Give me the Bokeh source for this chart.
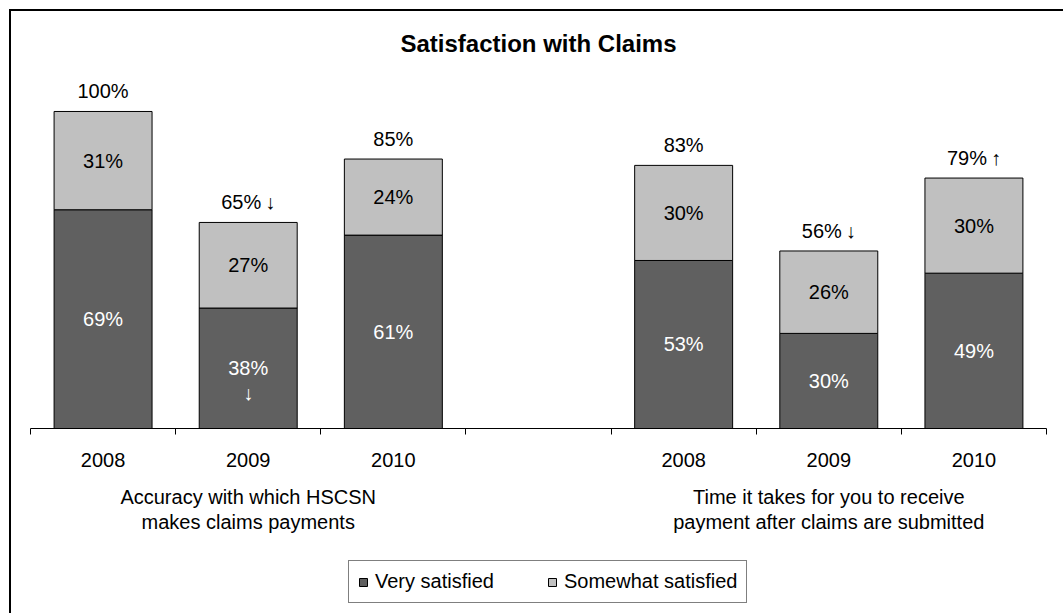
from bokeh.plotting import figure
from bokeh.layouts import column
from bokeh.models import (ColumnDataSource, Range1d, FixedTicker, LinearAxis,
                          LabelSet, Label, Legend, LegendItem)
from bokeh.core.properties import value
from bokeh.embed import file_html
from bokeh.resources import INLINE

# ---- data ----
title = "Satisfaction with Claims"
years = ["2008", "2009", "2010"]
groups = ["Accuracy with which HSCSN\nmakes claims payments",
          "Time it takes for you to receive\npayment after claims are submitted"]
series_names = ["Very satisfied", "Somewhat satisfied"]
accuracy_very = [69, 38, 61]
accuracy_somewhat = [31, 27, 24]
accuracy_total_labels = ["100%", "65%\u2009\u2193", "85%"]
accuracy_very_notes = ["", "\u2193", ""]
timing_very = [53, 30, 49]
timing_somewhat = [30, 26, 30]
timing_total_labels = ["83%", "56%\u2009\u2193", "79%\u2009\u2191"]
timing_very_notes = ["", "", ""]

FONT = "Liberation Sans"
FS = "20px"
DARK = "#606060"
LIGHT = "#c0c0c0"

# slots: 3 years, one empty slot, 3 years
slots_per_group = len(years) + 1
xs, very, some, tot_lbl, notes = [], [], [], [], []
for g, (v, s, t, n) in enumerate([(accuracy_very, accuracy_somewhat, accuracy_total_labels, accuracy_very_notes),
                                   (timing_very, timing_somewhat, timing_total_labels, timing_very_notes)]):
    for i in range(len(years)):
        xs.append(g * slots_per_group + i + 0.5)
        very.append(v[i]); some.append(s[i]); tot_lbl.append(t[i]); notes.append(n[i])
n_slots = slots_per_group * len(groups) - 1

src = ColumnDataSource(dict(
    x=xs,
    very=very,
    some=some,
    total=[a + b for a, b in zip(very, some)],
    very_mid=[a / 2 for a in very],
    some_mid=[a + b / 2 for a, b in zip(very, some)],
    very_lbl=[f"{a}%" for a in very],
    some_lbl=[f"{b}%" for b in some],
    tot_lbl=tot_lbl,
    notes=notes,
))

p = figure(width=1052, height=534, output_backend="svg", toolbar_location=None,
           x_range=Range1d(0, n_slots), y_range=Range1d(0, 128.7),
           y_axis_location=None, min_border_left=19, min_border_right=17,
           min_border_top=9, min_border_bottom=117)
p.outline_line_color = None
p.grid.visible = False
p.background_fill_color = "white"
p.border_fill_color = "white"

bar_style = dict(width=0.675, line_color="black", line_width=1)
r_very = p.vbar(x="x", bottom=0, top="very", source=src, fill_color=DARK, **bar_style)
r_some = p.vbar(x="x", bottom="very", top="total", source=src, fill_color=LIGHT, **bar_style)

# chart title (y in screen pixels from the frame bottom)
p.add_layout(Label(x=n_slots / 2, y=385, y_units="screen", text=title,
                   text_font=FONT, text_font_size="24px", text_font_style="bold",
                   text_align="center", text_baseline="middle", text_color="black"))

# year axis (ticks at slot boundaries)
ax = p.xaxis[0]
ax.ticker = FixedTicker(ticks=xs, minor_ticks=list(range(n_slots + 1)))
ax.major_label_overrides = {x: years[k % len(years)] for k, x in enumerate(xs)}
ax.major_tick_line_color = None
ax.major_tick_out = 0
ax.major_tick_in = 0
ax.minor_tick_line_color = "black"
ax.minor_tick_out = 6
ax.minor_tick_in = 0
ax.axis_line_color = "black"
ax.axis_line_width = 1
ax.major_label_text_font = FONT
ax.major_label_text_font_size = FS
ax.major_label_text_color = "black"
ax.major_label_standoff = 18

# group axis
gcenters = [g * slots_per_group + len(years) / 2 for g in range(len(groups))]
gax = LinearAxis(ticker=FixedTicker(ticks=gcenters),
                 major_label_overrides={c: groups[k] for k, c in enumerate(gcenters)})
gax.axis_line_color = None
gax.major_tick_line_color = None
gax.minor_tick_line_color = None
gax.major_label_text_font = FONT
gax.major_label_text_font_size = FS
gax.major_label_text_color = "black"
gax.major_label_text_line_height = 1.15
gax.major_label_standoff = 10
p.add_layout(gax, "below")

common = dict(source=src, text_font=value(FONT), text_font_size=FS,
              text_align="center", text_baseline="middle")
p.add_layout(LabelSet(x="x", y="very_mid", text="very_lbl", text_color="white", **common))
p.add_layout(LabelSet(x="x", y="very_mid", text="notes", text_color="white", y_offset=-25, **common))
p.add_layout(LabelSet(x="x", y="some_mid", text="some_lbl", text_color="black", **common))
p.add_layout(LabelSet(x="x", y="total", text="tot_lbl", text_color="black", y_offset=20, **common))

# legend strip below the chart (hidden copies of the series renderers give the swatches)
p2 = figure(width=1052, height=68, output_backend="svg", toolbar_location=None,
            x_range=Range1d(0, n_slots), y_range=Range1d(0, 128.7),
            x_axis_location=None, y_axis_location=None,
            min_border=0, min_border_left=0, min_border_right=0,
            min_border_top=0, min_border_bottom=0)
p2.outline_line_color = None
p2.grid.visible = False
p2.background_fill_color = "white"
p2.border_fill_color = "white"
l_very = p2.vbar(x="x", bottom=0, top="very", source=src, fill_color=DARK, **bar_style)
l_some = p2.vbar(x="x", bottom="very", top="total", source=src, fill_color=LIGHT, **bar_style)
l_very.visible = False
l_some.visible = False

legend = Legend(items=[LegendItem(label=series_names[0], renderers=[l_very]),
                       LegendItem(label=series_names[1], renderers=[l_some])],
                orientation="horizontal", location=(318, 10))
legend.margin = 0
legend.border_line_color = "black"
legend.border_line_width = 1
legend.background_fill_color = "white"
legend.background_fill_alpha = 1
legend.inactive_fill_alpha = 0
legend.label_text_font = FONT
legend.label_text_font_size = FS
legend.label_text_color = "black"
legend.glyph_width = 10
legend.glyph_height = 10
legend.label_standoff = 7
legend.spacing = 53
legend.padding = 9
legend.label_height = 22
p2.add_layout(legend, "center")

layout = column(p, p2, spacing=0)
layout.margin = (9, 0, 0, 9)
layout.styles = {"border-left": "2px solid black", "border-top": "2px solid black"}

open("out.html", "w").write(file_html(layout, INLINE))
